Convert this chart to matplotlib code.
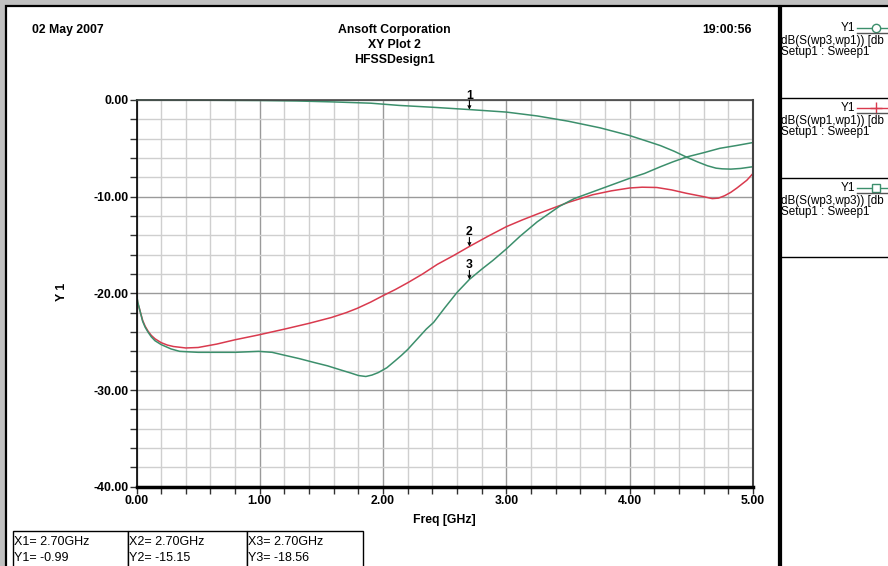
import matplotlib
matplotlib.use("Agg")
import matplotlib.pyplot as plt
from matplotlib.patches import Rectangle
from matplotlib.lines import Line2D
from matplotlib import font_manager

# ---------------- data ----------------
freq_s31 = [0, 0.2, 0.5, 1.0, 1.3, 1.6, 1.9, 2.13, 2.4, 2.7, 3.0, 3.25, 3.5, 3.76,
            4.0, 4.15, 4.25, 4.36, 4.46, 4.55, 4.63, 4.7, 4.75, 4.82, 4.9, 5.0]
db_s31 = [0, -0.01, -0.02, -0.05, -0.1, -0.2, -0.33, -0.56, -0.75, -0.99, -1.25, -1.65,
          -2.19, -2.88, -3.68, -4.3, -4.72, -5.3, -5.9, -6.4, -6.8, -7.05, -7.12, -7.15,
          -7.08, -6.9]

freq_s11 = [0, 0.01, 0.024, 0.05, 0.07, 0.093, 0.12, 0.15, 0.2, 0.25, 0.3, 0.4, 0.5, 0.65,
            0.8, 0.99, 1.2, 1.4, 1.58, 1.7, 1.79, 1.9, 1.99, 2.1, 2.2, 2.32, 2.44, 2.57,
            2.7, 2.85, 3.0, 3.13, 3.27, 3.5, 3.7, 3.85, 4.0, 4.1, 4.22, 4.34, 4.46, 4.6,
            4.67, 4.72, 4.77, 4.82, 4.87, 4.95, 5.0]
db_s11 = [-20, -21.0, -21.6, -22.8, -23.4, -23.9, -24.35, -24.7, -25.1, -25.35, -25.5,
          -25.65, -25.6, -25.25, -24.8, -24.3, -23.7, -23.1, -22.5, -22.0, -21.55, -20.9,
          -20.3, -19.6, -18.9, -18.0, -17.0, -16.1, -15.15, -14.1, -13.1, -12.4, -11.7,
          -10.6, -9.8, -9.4, -9.1, -9.02, -9.05, -9.3, -9.65, -10.0, -10.2, -10.15, -9.9,
          -9.55, -9.1, -8.3, -7.6]

freq_s33 = [0, 0.01, 0.024, 0.05, 0.07, 0.093, 0.12, 0.15, 0.2, 0.28, 0.35, 0.5, 0.65,
            0.8, 0.99, 1.1, 1.2, 1.32, 1.44, 1.55, 1.65, 1.74, 1.80, 1.86, 1.91, 1.96,
            2.03, 2.1, 2.15, 2.2, 2.25, 2.3, 2.35, 2.41, 2.5, 2.6, 2.7, 2.8, 2.89, 3.0,
            3.11, 3.25, 3.43, 3.55, 3.7, 3.85, 4.0, 4.12, 4.25, 4.35, 4.46, 4.6, 4.73,
            4.87, 5.0]
db_s33 = [-20, -20.9, -21.6, -22.9, -23.5, -24.0, -24.5, -24.9, -25.3, -25.75, -26.0,
          -26.1, -26.1, -26.1, -26.0, -26.1, -26.4, -26.75, -27.15, -27.5, -27.9, -28.25,
          -28.5, -28.6, -28.45, -28.2, -27.7, -26.95, -26.4, -25.8, -25.1, -24.4, -23.7,
          -23.0, -21.5, -19.9, -18.56, -17.5, -16.6, -15.4, -14.1, -12.6, -11.0, -10.2,
          -9.5, -8.8, -8.1, -7.6, -6.9, -6.4, -5.9, -5.45, -5.0, -4.7, -4.4]

marker_freq = 2.70
marker_names = ["1", "2", "3"]
marker_vals = [-0.99, -15.15, -18.56]

# legend expressions as visible in the (cropped) legend panel
legend_exprs = ["dB(S(wp3,wp1)) [db", "dB(S(wp1,wp1)) [db", "dB(S(wp3,wp3)) [db"]
legend_setup = "Setup1 : Sweep1"

x_ticks = [0, 1, 2, 3, 4, 5]
y_ticks = [0, -10, -20, -30, -40]

GREEN = "#3c8f6c"
RED = "#d93a4e"

# ---------------- fonts ----------------
avail = {f.name for f in font_manager.fontManager.ttflist}
NARROW = "Liberation Sans Narrow" if "Liberation Sans Narrow" in avail else "Liberation Sans"
REG = "Liberation Sans"
BFS = 8.8

W, H = 888, 566
fig = plt.figure(figsize=(W / 100, H / 100), dpi=100, facecolor="#c0c0c0")


def fx(x):
    return x / W


def fy(y):
    return 1 - y / H


def frect(x0, y0, x1, y1, **kw):
    r = Rectangle((fx(x0), fy(y1)), fx(x1 - x0), (y1 - y0) / H,
                  transform=fig.transFigure, zorder=-2, **kw)
    fig.patches.append(r)


def fline(xs, ys, **kw):
    fig.lines.append(Line2D([fx(v) for v in xs], [fy(v) for v in ys],
                            transform=fig.transFigure, **kw))


# panels
frect(6, 6, 779, 575, fc="white", ec="black", lw=1.6)
frect(781, 6, 895, 575, fc="white", ec="black", lw=1.6)
for ysep in [98, 178, 257]:
    fline([781, 888], [ysep, ysep], color="black", lw=1.0)

# header
fig.text(fx(32), fy(30), "02 May 2007", family=NARROW, weight="bold", fontsize=BFS,
         ha="left", va="center")
fig.text(fx(394), fy(30), "Ansoft Corporation", family=NARROW, weight="bold",
         fontsize=BFS, ha="center", va="center")
fig.text(fx(394), fy(45), "XY Plot 2", family=NARROW, weight="bold", fontsize=BFS,
         ha="center", va="center")
fig.text(fx(394), fy(60), "HFSSDesign1", family=NARROW, weight="bold", fontsize=BFS,
         ha="center", va="center")
fig.text(fx(752), fy(30), "19:00:56", family=NARROW, weight="bold", fontsize=BFS,
         ha="right", va="center")

# ---------------- axes ----------------
x0p, x1p, y0p, y1p = 136.5, 753, 100, 486.7
ax = fig.add_axes([fx(x0p), fy(y1p), fx(x1p - x0p), (y1p - y0p) / H])
ax.set_xlim(0, 5)
ax.set_ylim(-40, 0)
ax.set_xticks(x_ticks)
ax.set_xticklabels([f"{v:.2f}" for v in x_ticks])
ax.set_yticks(y_ticks)
ax.set_yticklabels([f"{v:.2f}" for v in y_ticks])
ax.set_xticks([i * 0.2 for i in range(26)], minor=True)
ax.set_yticks([-i * 2 for i in range(21)], minor=True)
ax.grid(which="minor", color="#cfcfcf", lw=1.0)
ax.grid(which="major", color="#9a9a9a", lw=1.0)
ax.set_axisbelow(True)
for lab in ax.get_xticklabels() + ax.get_yticklabels():
    lab.set_family(NARROW)
    lab.set_weight("bold")
    lab.set_fontsize(BFS)
ax.tick_params(which="both", direction="out", length=5, width=1, color="#333333", pad=1)
ax.spines["left"].set_color("black")
ax.spines["left"].set_linewidth(1.2)
ax.spines["bottom"].set_color("black")
ax.spines["bottom"].set_linewidth(2.5)
ax.spines["top"].set_color("#444444")
ax.spines["top"].set_linewidth(1.2)
ax.spines["right"].set_color("#444444")
ax.spines["right"].set_linewidth(1.5)

ax.plot(freq_s31, db_s31, color=GREEN, lw=1.1, clip_on=False)
ax.plot(freq_s11, db_s11, color=RED, lw=1.1)
ax.plot(freq_s33, db_s33, color=GREEN, lw=1.1)

for name, val in zip(marker_names, marker_vals):
    ax.annotate("", xy=(marker_freq, val), xytext=(0, 9), textcoords="offset pixels",
                arrowprops=dict(arrowstyle="->", lw=0.8, color="black",
                                shrinkA=0, shrinkB=0, mutation_scale=5))
    ax.annotate(name, xy=(marker_freq, val), xytext=(0, 14), textcoords="offset pixels",
                ha="center", va="center", family=NARROW, weight="bold", fontsize=BFS)

ax.set_xlabel("Freq [GHz]", family=NARROW, weight="bold", fontsize=BFS, labelpad=5)
fig.text(fx(62), fy(292), "Y 1", family=NARROW, weight="bold", fontsize=BFS,
         rotation=90, ha="center", va="center")

# ---------------- legend panel ----------------
sym = ["o", "+", "s"]
cols = [GREEN, RED, GREEN]
for i in range(3):
    base = 28 + 80 * i
    fig.text(fx(855), fy(base), "Y1", family=REG, fontsize=8.5, ha="right", va="center")
    fline([857, 900], [base, base], color=cols[i], lw=1.0)
    fig.lines.append(Line2D([fx(876)], [fy(base)], marker=sym[i], ms=6 if i != 1 else 8,
                            mfc="white", mec=cols[i], mew=1.0, ls="none",
                            transform=fig.transFigure))
    fline([857, 900], [base + 5, base + 5], color="#555555", lw=1.0)
    fig.text(fx(781), fy(base + 13), legend_exprs[i], family=REG, fontsize=8.4,
             ha="left", va="center")
    fig.text(fx(781), fy(base + 24), legend_setup, family=REG, fontsize=8.4,
             ha="left", va="center")

# ---------------- marker table ----------------
cells = [(12.7, 128), (128, 247), (247, 363)]
for (a, b), name, val in zip(cells, marker_names, marker_vals):
    frect(a, 531, b, 575, fc="white", ec="black", lw=1.0)
    fig.text(fx(a + 1), fy(542), f"X{name}= {marker_freq:.2f}GHz", family=REG,
             fontsize=9, ha="left", va="center")
    fig.text(fx(a + 1), fy(558), f"Y{name}= {val:.2f}", family=REG, fontsize=9,
             ha="left", va="center")

fig.savefig("out.png", dpi=100, facecolor=fig.get_facecolor())
